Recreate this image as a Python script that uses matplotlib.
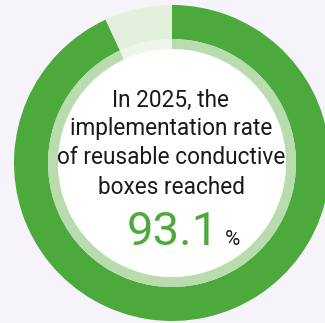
import matplotlib
matplotlib.use('Agg')
import matplotlib.pyplot as plt

# data
rate = 93.1
parts = [rate, 100 - rate]
caption = ['In 2025, the', 'implementation rate', 'of reusable conductive', 'boxes reached']
value_label = '93.1'

plt.rcParams['font.family'] = ['Roboto', 'DejaVu Sans']

W, H = 325, 323
fig = plt.figure(figsize=(W / 100, H / 100), dpi=100)
fig.patch.set_facecolor('#f6f4fa')
ax = fig.add_axes([0, 0, 1, 1])

cx, cy = 172, H - 163

# outer ring
ax.pie(parts, colors=['#4caa3c', '#e3f0dc'], startangle=90, counterclock=False,
       radius=158, center=(cx, cy), wedgeprops=dict(width=34, linewidth=0))
# thin inner ring
ax.pie(parts, colors=['#b8dcae', '#eef6eb'], startangle=90, counterclock=False,
       radius=124, center=(cx, cy), wedgeprops=dict(width=10, linewidth=0))
ax.add_patch(plt.Circle((cx, cy), 114, color='white', lw=0))

line_y = [100, 129, 158, 187]
for txt, y in zip(caption, line_y):
    ax.text(171, H - y, txt, ha='center', va='center', fontsize=16.3, color='#1a1a1a')

ax.text(219, H - 245, value_label, ha='right', va='baseline', fontsize=34, color='#4caa3c')
ax.text(225, H - 245, '%', ha='left', va='baseline', fontsize=15, color='#1a1a1a')

ax.set_xlim(0, W)
ax.set_ylim(0, H)
ax.set_aspect('equal')
ax.axis('off')

fig.savefig('out.png', dpi=100, facecolor=fig.get_facecolor())
